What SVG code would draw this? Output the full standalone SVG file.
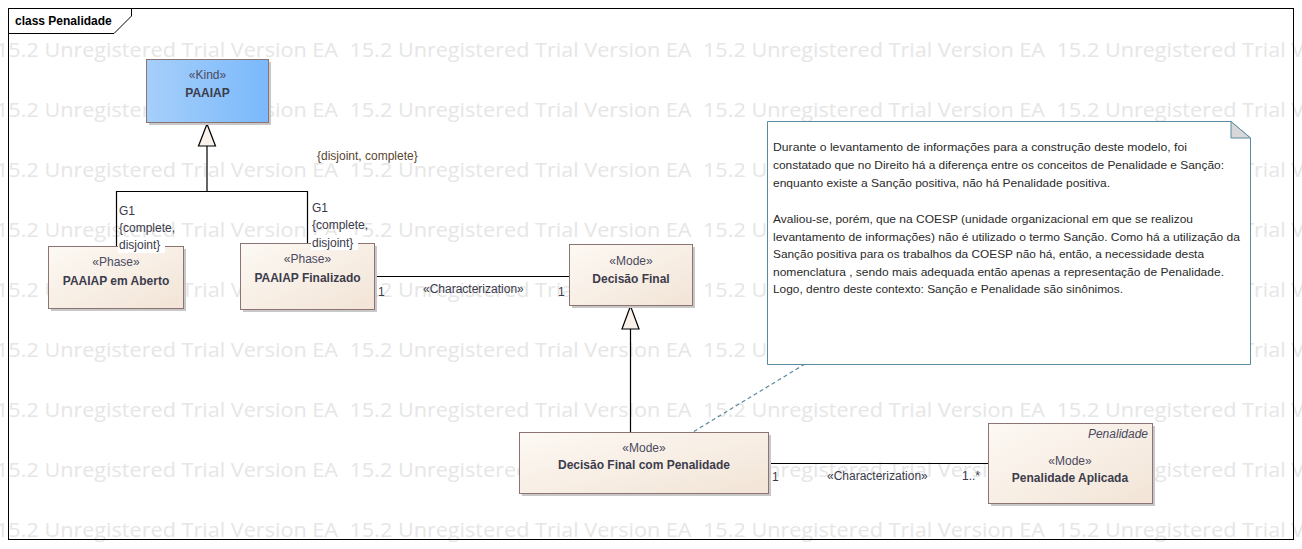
<svg xmlns="http://www.w3.org/2000/svg" width="1302" height="549" viewBox="0 0 1302 549">
<style>
.wm{font-family:"Open Sans","Liberation Sans",sans-serif;font-size:20px;fill:#e6e6e6}
.st{font-family:"Liberation Sans",Arial,sans-serif;font-size:12px;fill:#4a4a5e;text-anchor:middle}
.nm{font-family:"Liberation Sans",Arial,sans-serif;font-size:12px;font-weight:bold;fill:#3c3c4c;text-anchor:middle}
.lb{font-family:"Liberation Sans",Arial,sans-serif;font-size:12px;fill:#3a3a4a}
.nt{font-family:"Liberation Sans",Arial,sans-serif;font-size:11.5px;fill:#2a2a2a;white-space:pre}
.box{fill:url(#cream);stroke:#8c7474;stroke-width:1}
.shadow{fill:#c8c8c8}
.edge{fill:none;stroke:#000;stroke-width:1.2}
.tri{fill:#f8f2ea;stroke:#000;stroke-width:1.2}
</style>
<defs>
<linearGradient id="cream" x1="0" y1="0" x2="1" y2="1">
<stop offset="0" stop-color="#fdf9f4"/>
<stop offset="1" stop-color="#f2e4d6"/>
</linearGradient>
<linearGradient id="blue" x1="0" y1="0" x2="1" y2="0">
<stop offset="0" stop-color="#a6cffa"/>
<stop offset="1" stop-color="#7ab9fb"/>
</linearGradient>
</defs>
<rect x="0" y="0" width="1302" height="549" fill="#ffffff"/>
<g id="watermark">
<g class="wm">
<text x="-4" y="57" textLength="342" lengthAdjust="spacingAndGlyphs">15.2 Unregistered Trial Version EA</text>
<text x="349.5" y="57" textLength="342" lengthAdjust="spacingAndGlyphs">15.2 Unregistered Trial Version EA</text>
<text x="703" y="57" textLength="342" lengthAdjust="spacingAndGlyphs">15.2 Unregistered Trial Version EA</text>
<text x="1056.5" y="57" textLength="342" lengthAdjust="spacingAndGlyphs">15.2 Unregistered Trial Version EA</text>
<text x="-4" y="117" textLength="342" lengthAdjust="spacingAndGlyphs">15.2 Unregistered Trial Version EA</text>
<text x="349.5" y="117" textLength="342" lengthAdjust="spacingAndGlyphs">15.2 Unregistered Trial Version EA</text>
<text x="703" y="117" textLength="342" lengthAdjust="spacingAndGlyphs">15.2 Unregistered Trial Version EA</text>
<text x="1056.5" y="117" textLength="342" lengthAdjust="spacingAndGlyphs">15.2 Unregistered Trial Version EA</text>
<text x="-4" y="177" textLength="342" lengthAdjust="spacingAndGlyphs">15.2 Unregistered Trial Version EA</text>
<text x="349.5" y="177" textLength="342" lengthAdjust="spacingAndGlyphs">15.2 Unregistered Trial Version EA</text>
<text x="703" y="177" textLength="342" lengthAdjust="spacingAndGlyphs">15.2 Unregistered Trial Version EA</text>
<text x="1056.5" y="177" textLength="342" lengthAdjust="spacingAndGlyphs">15.2 Unregistered Trial Version EA</text>
<text x="-4" y="237" textLength="342" lengthAdjust="spacingAndGlyphs">15.2 Unregistered Trial Version EA</text>
<text x="349.5" y="237" textLength="342" lengthAdjust="spacingAndGlyphs">15.2 Unregistered Trial Version EA</text>
<text x="703" y="237" textLength="342" lengthAdjust="spacingAndGlyphs">15.2 Unregistered Trial Version EA</text>
<text x="1056.5" y="237" textLength="342" lengthAdjust="spacingAndGlyphs">15.2 Unregistered Trial Version EA</text>
<text x="-4" y="297" textLength="342" lengthAdjust="spacingAndGlyphs">15.2 Unregistered Trial Version EA</text>
<text x="349.5" y="297" textLength="342" lengthAdjust="spacingAndGlyphs">15.2 Unregistered Trial Version EA</text>
<text x="703" y="297" textLength="342" lengthAdjust="spacingAndGlyphs">15.2 Unregistered Trial Version EA</text>
<text x="1056.5" y="297" textLength="342" lengthAdjust="spacingAndGlyphs">15.2 Unregistered Trial Version EA</text>
<text x="-4" y="357" textLength="342" lengthAdjust="spacingAndGlyphs">15.2 Unregistered Trial Version EA</text>
<text x="349.5" y="357" textLength="342" lengthAdjust="spacingAndGlyphs">15.2 Unregistered Trial Version EA</text>
<text x="703" y="357" textLength="342" lengthAdjust="spacingAndGlyphs">15.2 Unregistered Trial Version EA</text>
<text x="1056.5" y="357" textLength="342" lengthAdjust="spacingAndGlyphs">15.2 Unregistered Trial Version EA</text>
<text x="-4" y="417" textLength="342" lengthAdjust="spacingAndGlyphs">15.2 Unregistered Trial Version EA</text>
<text x="349.5" y="417" textLength="342" lengthAdjust="spacingAndGlyphs">15.2 Unregistered Trial Version EA</text>
<text x="703" y="417" textLength="342" lengthAdjust="spacingAndGlyphs">15.2 Unregistered Trial Version EA</text>
<text x="1056.5" y="417" textLength="342" lengthAdjust="spacingAndGlyphs">15.2 Unregistered Trial Version EA</text>
<text x="-4" y="477" textLength="342" lengthAdjust="spacingAndGlyphs">15.2 Unregistered Trial Version EA</text>
<text x="349.5" y="477" textLength="342" lengthAdjust="spacingAndGlyphs">15.2 Unregistered Trial Version EA</text>
<text x="703" y="477" textLength="342" lengthAdjust="spacingAndGlyphs">15.2 Unregistered Trial Version EA</text>
<text x="1056.5" y="477" textLength="342" lengthAdjust="spacingAndGlyphs">15.2 Unregistered Trial Version EA</text>
<text x="-4" y="537" textLength="342" lengthAdjust="spacingAndGlyphs">15.2 Unregistered Trial Version EA</text>
<text x="349.5" y="537" textLength="342" lengthAdjust="spacingAndGlyphs">15.2 Unregistered Trial Version EA</text>
<text x="703" y="537" textLength="342" lengthAdjust="spacingAndGlyphs">15.2 Unregistered Trial Version EA</text>
<text x="1056.5" y="537" textLength="342" lengthAdjust="spacingAndGlyphs">15.2 Unregistered Trial Version EA</text>
</g>
</g>
<g id="frame">
<rect x="8.5" y="8.5" width="1285" height="531" fill="none" stroke="#000" stroke-width="1"/>
<path d="M8.5 8.5 H131.5 V16 L114 33.5 H8.5 Z" fill="#fff" stroke="#000" stroke-width="1"/>
<text x="15" y="25" style="font-family:'Liberation Sans',Arial,sans-serif;font-size:12px;font-weight:bold;fill:#000">class Penalidade</text>
</g>
<g id="connectors">
<path class="edge" d="M207 146 V191.5 M116.5 246 V191.5 H307.5 V243"/>
<path class="tri" d="M207 124 L198.5 146 H215.5 Z"/>
<path class="edge" d="M374 276.5 H569"/>
<path class="edge" d="M630.5 329 V432"/>
<path class="tri" d="M630.5 306 L622 329 H639 Z"/>
<path class="edge" d="M768 463.5 H988"/>
<path d="M805 364 L693 432" fill="none" stroke="#5a8aa0" stroke-width="1.2" stroke-dasharray="4,3"/>
</g>
<g id="PAAIAP">
<rect class="shadow" x="149" y="62" width="122" height="63"/>
<rect x="146.5" y="59.5" width="122" height="63" fill="url(#blue)" stroke="#8c7474"/>
<text class="st" x="207.5" y="79">«Kind»</text>
<text class="nm" x="207.5" y="97">PAAIAP</text>
</g>
<g id="PAAIAPemAberto">
<rect class="shadow" x="51" y="249" width="135" height="62"/>
<rect class="box" x="48.5" y="246.5" width="135" height="62"/>
<text class="st" x="116" y="266">«Phase»</text>
<text class="nm" x="116" y="285">PAAIAP em Aberto</text>
</g>
<g id="PAAIAPFinalizado">
<rect class="shadow" x="243" y="246" width="134" height="66"/>
<rect class="box" x="240.5" y="243.5" width="134" height="66"/>
<text class="st" x="307.5" y="263">«Phase»</text>
<text class="nm" x="307.5" y="282">PAAIAP Finalizado</text>
</g>
<g id="DecisaoFinal">
<rect class="shadow" x="572" y="247" width="123" height="61"/>
<rect class="box" x="569.5" y="244.5" width="123" height="61"/>
<text class="st" x="631" y="265">«Mode»</text>
<text class="nm" x="631" y="283">Decisão Final</text>
</g>
<g id="DecisaoFinalComPenalidade">
<rect class="shadow" x="522" y="435" width="249" height="61"/>
<rect class="box" x="519.5" y="432.5" width="249" height="61"/>
<text class="st" x="644" y="452">«Mode»</text>
<text class="nm" x="644" y="469">Decisão Final com Penalidade</text>
</g>
<g id="PenalidadeAplicada">
<rect class="shadow" x="991" y="426" width="164" height="80"/>
<rect class="box" x="988.5" y="423.5" width="164" height="80"/>
<text x="1148" y="438" style="font-family:'Liberation Sans',Arial,sans-serif;font-size:12px;font-style:italic;fill:#4a4a5e;text-anchor:end">Penalidade</text>
<text class="st" x="1070" y="465">«Mode»</text>
<text class="nm" x="1070" y="482">Penalidade Aplicada</text>
</g>
<g id="note">
<path d="M767.5 121.5 H1231 L1250.5 138 V364.5 H767.5 Z" fill="#fff" stroke="#5a8aa0" stroke-width="1"/>
<path d="M1231 121.5 V138 H1250.5 Z" fill="#d8d8d8" stroke="#5a8aa0" stroke-width="1"/>
<g class="nt">
<text x="773" y="151" textLength="414" lengthAdjust="spacingAndGlyphs">Durante o levantamento de informações para a construção deste modelo, foi</text>
<text x="773" y="169" textLength="451" lengthAdjust="spacingAndGlyphs">constatado que no Direito há a diferença entre os conceitos de Penalidade e Sanção:</text>
<text x="773" y="187" textLength="337" lengthAdjust="spacingAndGlyphs">enquanto existe a Sanção positiva, não há Penalidade positiva.</text>
<text x="773" y="223" textLength="420" lengthAdjust="spacingAndGlyphs">Avaliou-se, porém, que na COESP (unidade organizacional  em que se realizou</text>
<text x="773" y="241" textLength="467" lengthAdjust="spacingAndGlyphs">levantamento de informações) não é utilizado o termo Sanção. Como há a utilização da</text>
<text x="773" y="258" textLength="431" lengthAdjust="spacingAndGlyphs">Sanção positiva  para os trabalhos da COESP não há, então, a necessidade desta</text>
<text x="773" y="276" textLength="451" lengthAdjust="spacingAndGlyphs">nomenclatura , sendo mais adequada então apenas a representação de Penalidade.</text>
<text x="773" y="293" textLength="350" lengthAdjust="spacingAndGlyphs">Logo, dentro deste contexto: Sanção e Penalidade são sinônimos.</text>
</g>
</g>
<g id="connector-labels" class="lb">
<text x="317" y="160" style="fill:#5a4630">{disjoint, complete}</text>
<text x="119" y="215">G1</text>
<text x="119" y="232">{complete,</text>
<rect x="118" y="238" width="47" height="15" fill="#fff"/>
<text x="119" y="249">disjoint}</text>
<text x="312" y="212">G1</text>
<text x="312" y="229">{complete,</text>
<rect x="311" y="235" width="47" height="15" fill="#fff"/>
<text x="312" y="247">disjoint}</text>
<text x="378" y="296">1</text>
<text x="423" y="293">«Characterization»</text>
<text x="558" y="296">1</text>
<text x="772" y="481">1</text>
<text x="827" y="480">«Characterization»</text>
<text x="962" y="480">1..*</text>
</g>
</svg>
